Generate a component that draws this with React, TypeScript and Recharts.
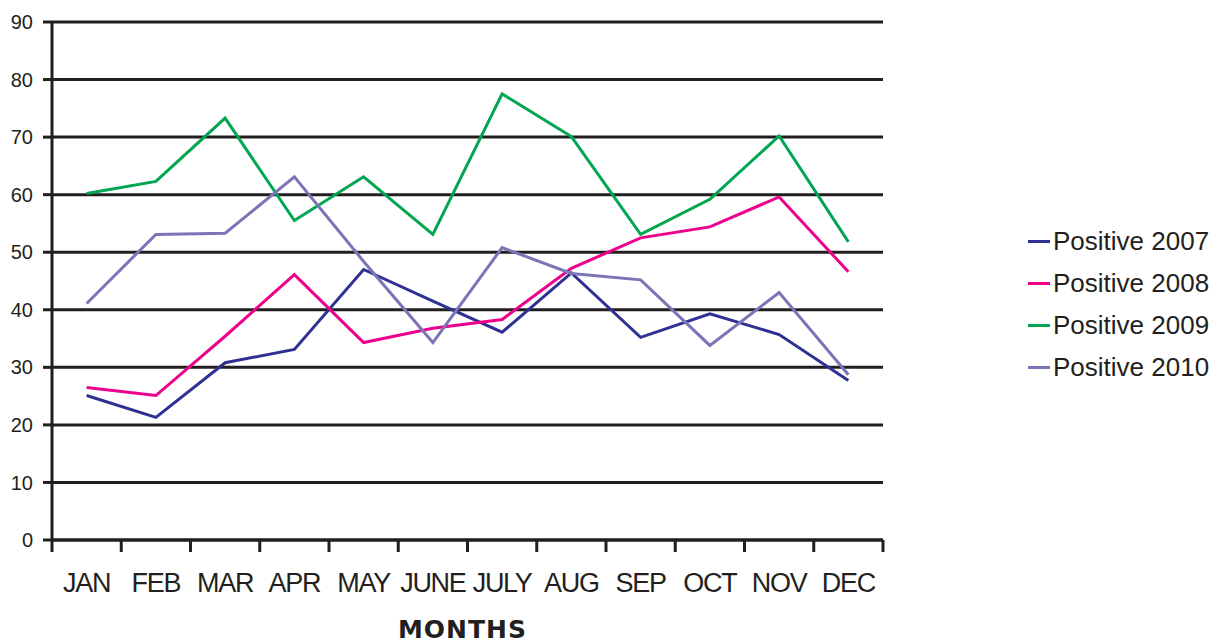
import { LineChart, Line, XAxis, YAxis, CartesianGrid, Legend, Label } from "recharts";

const months = ["JAN", "FEB", "MAR", "APR", "MAY", "JUNE", "JULY", "AUG", "SEP", "OCT", "NOV", "DEC"];
const pos2007 = [25.1, 21.3, 30.8, 33.1, 47.0, 41.5, 36.1, 46.4, 35.2, 39.3, 35.7, 27.7];
const pos2008 = [26.5, 25.1, 35.4, 46.1, 34.3, 36.8, 38.3, 47.2, 52.5, 54.4, 59.6, 46.6];
const pos2009 = [60.2, 62.3, 73.3, 55.5, 63.1, 53.1, 77.5, 70.1, 53.1, 59.2, 70.2, 51.8];
const pos2010 = [41.1, 53.1, 53.3, 63.1, 48.4, 34.3, 50.8, 46.3, 45.2, 33.8, 43.0, 28.7];
const yTicks = [0, 10, 20, 30, 40, 50, 60, 70, 80, 90];
const edgeTicks = [0, 1, 2, 3, 4, 5, 6, 7, 8, 9, 10, 11, 12];

// each month sits in the middle of its slot between two tick marks
const data = months.map((m, i) => ({
  month: m,
  slot: i + 0.5,
  p2007: pos2007[i],
  p2008: pos2008[i],
  p2009: pos2009[i],
  p2010: pos2010[i],
}));

const INK = "#231f20";
const FONT = "'Liberation Sans', Arial, sans-serif";
const HALF_SLOT = 831 / 24;

const series = [
  { key: "p2007", name: "Positive 2007", color: "#2e3192" },
  { key: "p2008", name: "Positive 2008", color: "#ec008c" },
  { key: "p2009", name: "Positive 2009", color: "#00a651" },
  { key: "p2010", name: "Positive 2010", color: "#7b74b6" },
];

function MonthTick(props: any) {
  const { x, y, payload } = props;
  return (
    <text x={x} y={y + 38} textAnchor="middle" fontSize={27} letterSpacing={-1.3} fill={INK} fontFamily={FONT}>
      {payload.value}
    </text>
  );
}

function LegendBox(props: any) {
  const items = props.payload || [];
  return (
    <div style={{ fontFamily: FONT, fontSize: 26, color: INK }}>
      {items.map((it: any) => (
        <div key={it.value} style={{ display: "flex", alignItems: "center", height: 42 }}>
          <span style={{ display: "inline-block", width: 22, height: 3, background: it.color, marginRight: 3 }} />
          <span>{it.value}</span>
        </div>
      ))}
    </div>
  );
}

export default function App() {
  return (
    <div style={{ position: "absolute", left: 0, top: 0, width: 1217, height: 643, background: "#fff" }}>
      <LineChart width={1217} height={643} data={data} margin={{ top: 22, right: 334, left: 0, bottom: 0 }}>
        <CartesianGrid vertical={false} stroke={INK} strokeWidth={3} xAxisId="edges" />
        <XAxis
          xAxisId="edges"
          dataKey="slot"
          type="number"
          domain={[0, 12]}
          ticks={edgeTicks}
          tickFormatter={() => ""}
          tickSize={12}
          height={14}
          axisLine={{ stroke: INK, strokeWidth: 3 }}
          tickLine={{ stroke: INK, strokeWidth: 3 }}
        />
        <XAxis
          xAxisId="months"
          dataKey="month"
          axisLine={false}
          tickLine={false}
          tickSize={0}
          tickMargin={0}
          height={89}
          interval={0}
          padding={{ left: HALF_SLOT, right: HALF_SLOT }}
          tick={<MonthTick />}
        >
          <Label
            value="MONTHS"
            position="insideBottom"
            offset={5}
            dx={-5}
            style={{ fontFamily: "'DejaVu Sans', sans-serif", fontWeight: "bold", fontSize: 25, fill: INK, letterSpacing: 1 }}
          />
        </XAxis>
        <YAxis
          domain={[0, 90]}
          ticks={yTicks}
          width={52}
          tickSize={9}
          tickMargin={10}
          axisLine={{ stroke: INK, strokeWidth: 3 }}
          tickLine={{ stroke: INK, strokeWidth: 3 }}
          tick={{ fontSize: 20, fill: INK, fontFamily: FONT }}
        />
        <Legend
          layout="vertical"
          align="center"
          verticalAlign="middle"
          content={<LegendBox />}
          wrapperStyle={{ position: "absolute", left: 1028, top: 220, width: 190 }}
        />
        {series.map((s) => (
          <Line
            key={s.key}
            xAxisId="edges"
            type="linear"
            dataKey={s.key}
            name={s.name}
            stroke={s.color}
            strokeWidth={3}
            dot={false}
            activeDot={false}
            isAnimationActive={false}
          />
        ))}
      </LineChart>
    </div>
  );
}
